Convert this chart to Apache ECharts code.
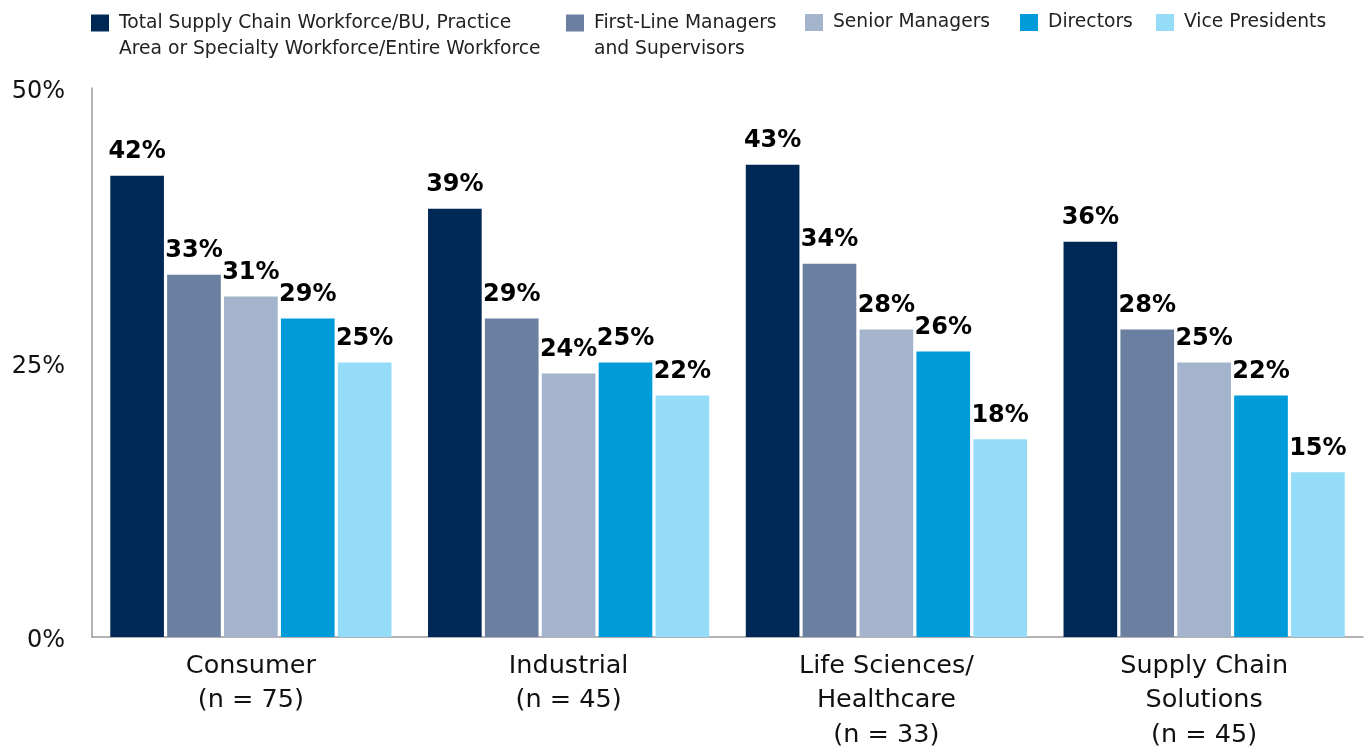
<!DOCTYPE html>
<html><head><meta charset="utf-8">
<script src="https://cdn.jsdelivr.net/npm/echarts@6/dist/echarts.min.js"></script>
<style>html,body{margin:0;padding:0;background:#fff}#c{width:1369px;height:747px}</style>
</head><body><div id="c"></div>
<script>
const categories = ['Consumer\n(n = 75)', 'Industrial\n(n = 45)', 'Life Sciences/\nHealthcare\n(n = 33)', 'Supply Chain\nSolutions\n(n = 45)'];
const seriesNames = ['Total Supply Chain Workforce/BU, Practice\nArea or Specialty Workforce/Entire Workforce', 'First-Line Managers\nand Supervisors', 'Senior Managers', 'Directors', 'Vice Presidents'];
const totalWorkforce = [42, 39, 43, 36];
const firstLine = [33, 29, 34, 28];
const seniorManagers = [31, 24, 28, 25];
const directors = [29, 25, 26, 22];
const vicePresidents = [25, 22, 18, 15];
const yTicks = [0, 25, 50];
const colors = ['#002856', '#6b7fa1', '#a3b4cc', '#009bd9', '#94dcf8'];
const values = [totalWorkforce, firstLine, seniorManagers, directors, vicePresidents];

const FONT = 'DejaVu Sans';
const legendLeft = [91, 566, 805, 1020, 1156];
const chart = echarts.init(document.getElementById('c'));
chart.setOption({
  animation: false,
  color: colors,
  legend: seriesNames.map((n, i) => ({
    left: legendLeft[i], top: n.includes('\n') ? -16 : 9.5, padding: 0, itemWidth: 18, itemHeight: 17,
    icon: 'rect',
    formatter: s => s.includes('\n') ? ' \n' + s : s,
    textStyle: { fontFamily: FONT, fontSize: 18.7, color: '#222', lineHeight: 26, padding: [0, 0, 0, 5] },
    data: [n]
  })),
  grid: { left: 92, right: 6, top: 88, bottom: 110, containLabel: false, outerBoundsMode: 'none' },
  xAxis: {
    type: 'category', data: categories,
    axisLine: { lineStyle: { color: '#999', width: 1.5 } },
    axisTick: { show: false },
    axisLabel: { fontFamily: FONT, fontSize: 25.5, color: '#111', lineHeight: 34.5, margin: 12, interval: 0 }
  },
  yAxis: {
    type: 'value', min: 0, max: 50, interval: 25,
    axisLine: { show: true, lineStyle: { color: '#999', width: 1.5 } },
    splitLine: { show: false },
    axisTick: { show: false },
    axisLabel: {
      formatter: v => yTicks.includes(v) ? '{t|' + v + '%}' : '',
      margin: 27,
      rich: { t: { fontFamily: FONT, fontSize: 24, color: '#111', padding: [8, 0, 0, 0] } }
    }
  },
  series: seriesNames.map((n, i) => ({
    name: n, type: 'bar', data: values[i],
    barGap: '6%', barCategoryGap: '11.5%',
    label: { show: true, position: 'top', distance: 12, formatter: '{c}%', fontFamily: FONT, fontWeight: 'bold', fontSize: 24, color: '#000' }
  }))
});
</script></body></html>
